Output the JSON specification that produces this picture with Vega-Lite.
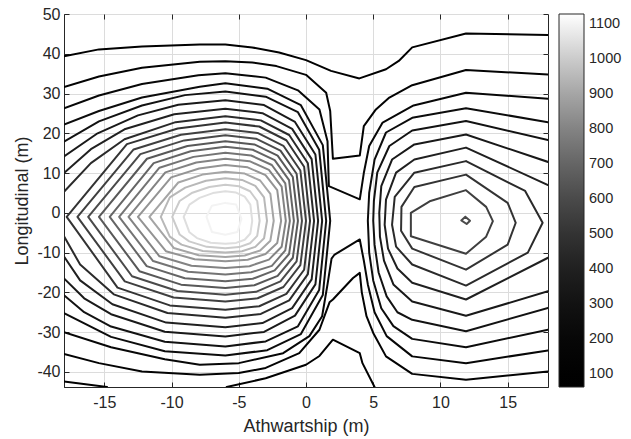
{
 "$schema": "https://vega.github.io/schema/vega-lite/v6.json",
 "width": 484, "height": 373,
 "autosize": {"type": "none"},
 "padding": {"left": 64, "top": 14, "right": 83, "bottom": 52},
 "background": "white",
 "config": {"view": {"stroke": "#262626", "strokeWidth": 1}, "font": "Liberation Sans"},
 "datasets": {
  "c": [
{"c":"1t","l":100,"o":1,"x":-18,"y":39.4},{"c":"1t","l":100,"o":2,"x":-15.4,"y":41.1},{"c":"1t","l":100,"o":3,"x":-12.2,"y":41.8},{"c":"1t","l":100,"o":4,"x":-7.9,"y":42.3},{"c":"1t","l":100,"o":5,"x":-6,"y":42.3},{"c":"1t","l":100,"o":6,"x":-4,"y":41.6},{"c":"1t","l":100,"o":7,"x":-2,"y":40.3},{"c":"1t","l":100,"o":8,"x":0,"y":38.4},{"c":"1t","l":100,"o":9,"x":1.86,"y":35.7},{"c":"1t","l":100,"o":10,"x":3.97,"y":33.8},{"c":"1t","l":100,"o":11,"x":5.95,"y":36.1},{"c":"1t","l":100,"o":12,"x":6.9,"y":38.2},{"c":"1t","l":100,"o":13,"x":7.9,"y":41.6},{"c":"1t","l":100,"o":14,"x":11.9,"y":45.1},{"c":"1t","l":100,"o":15,"x":18,"y":44.7},
{"c":"1c","l":100,"o":1,"x":-18,"y":-42.4},{"c":"1c","l":100,"o":2,"x":-14.8,"y":-43.8},
{"c":"1v","l":100,"o":1,"x":-5.9,"y":-43.8},{"c":"1v","l":100,"o":2,"x":-3,"y":-41.6},{"c":"1v","l":100,"o":3,"x":0,"y":-38.2},{"c":"1v","l":100,"o":4,"x":1,"y":-36},{"c":"1v","l":100,"o":5,"x":2,"y":-31.9},{"c":"1v","l":100,"o":6,"x":4,"y":-35.3},{"c":"1v","l":100,"o":7,"x":4.2,"y":-37.8},{"c":"1v","l":100,"o":8,"x":5.1,"y":-43.8},
{"c":"2t","l":150,"o":1,"x":-18,"y":31.6},{"c":"2t","l":150,"o":2,"x":-15.4,"y":34.3},{"c":"2t","l":150,"o":3,"x":-12.2,"y":36.5},{"c":"2t","l":150,"o":4,"x":-7.9,"y":38},{"c":"2t","l":150,"o":5,"x":-6,"y":38.1},{"c":"2t","l":150,"o":6,"x":-4,"y":37.8},{"c":"2t","l":150,"o":7,"x":-2.2,"y":36.9},{"c":"2t","l":150,"o":8,"x":0,"y":34.7},{"c":"2t","l":150,"o":9,"x":1.5,"y":30.2},{"c":"2t","l":150,"o":10,"x":1.8,"y":25.6},{"c":"2t","l":150,"o":11,"x":2,"y":13.6},{"c":"2t","l":150,"o":12,"x":4,"y":14.4},{"c":"2t","l":150,"o":13,"x":4.3,"y":21.8},{"c":"2t","l":150,"o":14,"x":5.2,"y":26},{"c":"2t","l":150,"o":15,"x":6.2,"y":29},{"c":"2t","l":150,"o":16,"x":7.9,"y":32.1},{"c":"2t","l":150,"o":17,"x":11.9,"y":35.9},{"c":"2t","l":150,"o":18,"x":18,"y":34.8},
{"c":"2b","l":150,"o":1,"x":-18,"y":-35.5},{"c":"2b","l":150,"o":2,"x":-15.4,"y":-37.8},{"c":"2b","l":150,"o":3,"x":-12.2,"y":-39.9},{"c":"2b","l":150,"o":4,"x":-7.9,"y":-40.7},{"c":"2b","l":150,"o":5,"x":-5,"y":-40.3},{"c":"2b","l":150,"o":6,"x":-3,"y":-39},{"c":"2b","l":150,"o":7,"x":-0.5,"y":-35.3},{"c":"2b","l":150,"o":8,"x":1,"y":-29.4},{"c":"2b","l":150,"o":9,"x":1.75,"y":-22.5},{"c":"2b","l":150,"o":10,"x":2,"y":-21.8},{"c":"2b","l":150,"o":11,"x":3.5,"y":-16.4},{"c":"2b","l":150,"o":12,"x":4,"y":-15.1},{"c":"2b","l":150,"o":13,"x":4.15,"y":-20},{"c":"2b","l":150,"o":14,"x":4.5,"y":-26},{"c":"2b","l":150,"o":15,"x":5,"y":-30.2},{"c":"2b","l":150,"o":16,"x":5.95,"y":-36.1},{"c":"2b","l":150,"o":17,"x":7.9,"y":-40.5},{"c":"2b","l":150,"o":18,"x":11.9,"y":-42},{"c":"2b","l":150,"o":19,"x":18,"y":-39.9},
{"c":"3t","l":200,"o":1,"x":-18,"y":26.3},{"c":"3t","l":200,"o":2,"x":-15.4,"y":29.5},{"c":"3t","l":200,"o":3,"x":-12.2,"y":32.4},{"c":"3t","l":200,"o":4,"x":-8,"y":34.6},{"c":"3t","l":200,"o":5,"x":-6,"y":35.1},{"c":"3t","l":200,"o":6,"x":-3,"y":34},{"c":"3t","l":200,"o":7,"x":-0.6,"y":30.8},{"c":"3t","l":200,"o":8,"x":1,"y":26},{"c":"3t","l":200,"o":9,"x":1.6,"y":18},{"c":"3t","l":200,"o":10,"x":1.7,"y":6.7},{"c":"3t","l":200,"o":11,"x":4,"y":3.4},{"c":"3t","l":200,"o":12,"x":4.3,"y":10},{"c":"3t","l":200,"o":13,"x":4.7,"y":16.8},{"c":"3t","l":200,"o":14,"x":5.7,"y":22.7},{"c":"3t","l":200,"o":15,"x":8,"y":27},{"c":"3t","l":200,"o":16,"x":11.9,"y":30.2},{"c":"3t","l":200,"o":17,"x":18,"y":28.7},
{"c":"3b","l":200,"o":1,"x":-18,"y":-30},{"c":"3b","l":200,"o":2,"x":-14.5,"y":-33.8},{"c":"3b","l":200,"o":3,"x":-10.5,"y":-36.8},{"c":"3b","l":200,"o":4,"x":-7.9,"y":-38.2},{"c":"3b","l":200,"o":5,"x":-5,"y":-37.8},{"c":"3b","l":200,"o":6,"x":-1.7,"y":-35.3},{"c":"3b","l":200,"o":7,"x":0.25,"y":-31},{"c":"3b","l":200,"o":8,"x":1.2,"y":-26},{"c":"3b","l":200,"o":9,"x":1.6,"y":-18},{"c":"3b","l":200,"o":10,"x":1.9,"y":-11.5},{"c":"3b","l":200,"o":11,"x":2.1,"y":-10.6},{"c":"3b","l":200,"o":12,"x":4,"y":-6.7},{"c":"3b","l":200,"o":13,"x":4.3,"y":-12},{"c":"3b","l":200,"o":14,"x":4.6,"y":-18},{"c":"3b","l":200,"o":15,"x":5.1,"y":-25},{"c":"3b","l":200,"o":16,"x":6,"y":-31},{"c":"3b","l":200,"o":17,"x":7.9,"y":-36.1},{"c":"3b","l":200,"o":18,"x":11.9,"y":-37.8},{"c":"3b","l":200,"o":19,"x":18,"y":-34.6},
{"c":"4L","l":250,"o":1,"x":-18,"y":22.2},{"c":"4L","l":250,"o":2,"x":-15.4,"y":25.6},{"c":"4L","l":250,"o":3,"x":-12.2,"y":29},{"c":"4L","l":250,"o":4,"x":-7.9,"y":31.7},{"c":"4L","l":250,"o":5,"x":-6,"y":32.6},{"c":"4L","l":250,"o":6,"x":-2.88,"y":31.22},{"c":"4L","l":250,"o":7,"x":-0.38,"y":27.06},{"c":"4L","l":250,"o":8,"x":1.25,"y":17.03},{"c":"4L","l":250,"o":9,"x":1.8,"y":-2},{"c":"4L","l":250,"o":10,"x":1.25,"y":-20.65},{"c":"4L","l":250,"o":11,"x":-0.38,"y":-30.48},{"c":"4L","l":250,"o":12,"x":-2.88,"y":-34.54},{"c":"4L","l":250,"o":13,"x":-6,"y":-35.9},{"c":"4L","l":250,"o":14,"x":-10.5,"y":-34.8},{"c":"4L","l":250,"o":15,"x":-14.5,"y":-31.2},{"c":"4L","l":250,"o":16,"x":-18,"y":-25.2},
{"c":"4R","l":250,"o":1,"x":18,"y":22.8},{"c":"4R","l":250,"o":2,"x":11.9,"y":26.3},{"c":"4R","l":250,"o":3,"x":7.9,"y":23.9},{"c":"4R","l":250,"o":4,"x":5.95,"y":20.2},{"c":"4R","l":250,"o":5,"x":5.1,"y":13.4},{"c":"4R","l":250,"o":6,"x":4.7,"y":5},{"c":"4R","l":250,"o":7,"x":4.6,"y":-2},{"c":"4R","l":250,"o":8,"x":4.7,"y":-10},{"c":"4R","l":250,"o":9,"x":5,"y":-17},{"c":"4R","l":250,"o":10,"x":5.6,"y":-24},{"c":"4R","l":250,"o":11,"x":6.5,"y":-28.5},{"c":"4R","l":250,"o":12,"x":7.9,"y":-31.7},{"c":"4R","l":250,"o":13,"x":11.9,"y":-33.8},{"c":"4R","l":250,"o":14,"x":18,"y":-29.4},
{"c":"5L","l":300,"o":1,"x":-18,"y":17.9},{"c":"5L","l":300,"o":2,"x":-15.4,"y":23},{"c":"5L","l":300,"o":3,"x":-12.2,"y":27},{"c":"5L","l":300,"o":4,"x":-9,"y":29.6},{"c":"5L","l":300,"o":5,"x":-6,"y":30.5},{"c":"5L","l":300,"o":6,"x":-3,"y":29.2},{"c":"5L","l":300,"o":7,"x":-0.6,"y":25.3},{"c":"5L","l":300,"o":8,"x":0.98,"y":15.88},{"c":"5L","l":300,"o":9,"x":1.5,"y":-2},{"c":"5L","l":300,"o":10,"x":0.98,"y":-19.38},{"c":"5L","l":300,"o":11,"x":-0.6,"y":-28.54},{"c":"5L","l":300,"o":12,"x":-3,"y":-32.34},{"c":"5L","l":300,"o":13,"x":-6,"y":-33.6},{"c":"5L","l":300,"o":14,"x":-10.5,"y":-32.4},{"c":"5L","l":300,"o":15,"x":-14.5,"y":-28.6},{"c":"5L","l":300,"o":16,"x":-16.5,"y":-25},{"c":"5L","l":300,"o":17,"x":-18,"y":-20.7},
{"c":"5R","l":300,"o":1,"x":18,"y":18.3},{"c":"5R","l":300,"o":2,"x":11.9,"y":23.1},{"c":"5R","l":300,"o":3,"x":7.9,"y":20.7},{"c":"5R","l":300,"o":4,"x":6.2,"y":16.8},{"c":"5R","l":300,"o":5,"x":5.3,"y":10.1},{"c":"5R","l":300,"o":6,"x":5.05,"y":3},{"c":"5R","l":300,"o":7,"x":5,"y":-2},{"c":"5R","l":300,"o":8,"x":5.1,"y":-8},{"c":"5R","l":300,"o":9,"x":5.4,"y":-15},{"c":"5R","l":300,"o":10,"x":6,"y":-21},{"c":"5R","l":300,"o":11,"x":6.8,"y":-25},{"c":"5R","l":300,"o":12,"x":7.9,"y":-26.9},{"c":"5R","l":300,"o":13,"x":11.9,"y":-29.8},{"c":"5R","l":300,"o":14,"x":18,"y":-23.9},
{"c":"6L","l":350,"o":1,"x":-18,"y":14.2},{"c":"6L","l":350,"o":2,"x":-15.5,"y":20},{"c":"6L","l":350,"o":3,"x":-12.5,"y":24.5},{"c":"6L","l":350,"o":4,"x":-9.5,"y":27.2},{"c":"6L","l":350,"o":5,"x":-6,"y":28.3},{"c":"6L","l":350,"o":6,"x":-3.12,"y":27.09},{"c":"6L","l":350,"o":7,"x":-0.82,"y":22.85},{"c":"6L","l":350,"o":8,"x":0.7,"y":14.67},{"c":"6L","l":350,"o":9,"x":1.2,"y":-2},{"c":"6L","l":350,"o":10,"x":0.7,"y":-18},{"c":"6L","l":350,"o":11,"x":-0.82,"y":-25.86},{"c":"6L","l":350,"o":12,"x":-3.12,"y":-29.94},{"c":"6L","l":350,"o":13,"x":-6,"y":-31.1},{"c":"6L","l":350,"o":14,"x":-10.5,"y":-29.9},{"c":"6L","l":350,"o":15,"x":-14.5,"y":-25.5},{"c":"6L","l":350,"o":16,"x":-16.5,"y":-21.5},{"c":"6L","l":350,"o":17,"x":-18,"y":-16.5},
{"c":"6R","l":350,"o":1,"x":18,"y":12.8},{"c":"6R","l":350,"o":2,"x":11.9,"y":19.7},{"c":"6R","l":350,"o":3,"x":8.06,"y":17.2},{"c":"6R","l":350,"o":4,"x":6.4,"y":13.4},{"c":"6R","l":350,"o":5,"x":5.6,"y":6.7},{"c":"6R","l":350,"o":6,"x":5.45,"y":0},{"c":"6R","l":350,"o":7,"x":5.5,"y":-6},{"c":"6R","l":350,"o":8,"x":5.8,"y":-12},{"c":"6R","l":350,"o":9,"x":6.5,"y":-18},{"c":"6R","l":350,"o":10,"x":7.9,"y":-22.3},{"c":"6R","l":350,"o":11,"x":11.9,"y":-25.9},{"c":"6R","l":350,"o":12,"x":18,"y":-19.7},
{"c":"7L","l":400,"o":1,"x":-18,"y":10},{"c":"7L","l":400,"o":2,"x":-16,"y":16},{"c":"7L","l":400,"o":3,"x":-13.5,"y":21},{"c":"7L","l":400,"o":4,"x":-9.8,"y":24.8},{"c":"7L","l":400,"o":5,"x":-6,"y":26.2},{"c":"7L","l":400,"o":6,"x":-3.24,"y":25.07},{"c":"7L","l":400,"o":7,"x":-1.03,"y":21.12},{"c":"7L","l":400,"o":8,"x":0.42,"y":13.51},{"c":"7L","l":400,"o":9,"x":0.9,"y":-2},{"c":"7L","l":400,"o":10,"x":0.42,"y":-16.74},{"c":"7L","l":400,"o":11,"x":-1.03,"y":-23.98},{"c":"7L","l":400,"o":12,"x":-3.24,"y":-27.73},{"c":"7L","l":400,"o":13,"x":-6,"y":-28.8},{"c":"7L","l":400,"o":14,"x":-10.4,"y":-27.6},{"c":"7L","l":400,"o":15,"x":-14.4,"y":-23},{"c":"7L","l":400,"o":16,"x":-16.8,"y":-17},{"c":"7L","l":400,"o":17,"x":-18,"y":-11},
{"c":"7R","l":400,"o":1,"x":18,"y":7},{"c":"7R","l":400,"o":2,"x":11.9,"y":16.4},{"c":"7R","l":400,"o":3,"x":8.06,"y":13.4},{"c":"7R","l":400,"o":4,"x":6.7,"y":10.1},{"c":"7R","l":400,"o":5,"x":5.95,"y":3.3},{"c":"7R","l":400,"o":6,"x":5.85,"y":-3},{"c":"7R","l":400,"o":7,"x":6.1,"y":-9},{"c":"7R","l":400,"o":8,"x":6.8,"y":-14},{"c":"7R","l":400,"o":9,"x":7.9,"y":-17.6},{"c":"7R","l":400,"o":10,"x":11.9,"y":-21.8},{"c":"7R","l":400,"o":11,"x":18,"y":-11.3},
{"c":"8L","l":450,"o":1,"x":-18,"y":5.3},{"c":"8L","l":450,"o":2,"x":-16,"y":12.5},{"c":"8L","l":450,"o":3,"x":-13.5,"y":18.5},{"c":"8L","l":450,"o":4,"x":-9.7,"y":22.8},{"c":"8L","l":450,"o":5,"x":-6,"y":24.3},{"c":"8L","l":450,"o":6,"x":-3.36,"y":23.25},{"c":"8L","l":450,"o":7,"x":-1.25,"y":19.57},{"c":"8L","l":450,"o":8,"x":0.14,"y":12.47},{"c":"8L","l":450,"o":9,"x":0.6,"y":-2},{"c":"8L","l":450,"o":10,"x":0.14,"y":-15.42},{"c":"8L","l":450,"o":11,"x":-1.25,"y":-22.01},{"c":"8L","l":450,"o":12,"x":-3.36,"y":-25.42},{"c":"8L","l":450,"o":13,"x":-6,"y":-26.4},{"c":"8L","l":450,"o":14,"x":-10.3,"y":-25.2},{"c":"8L","l":450,"o":15,"x":-14.3,"y":-20.5},{"c":"8L","l":450,"o":16,"x":-16.8,"y":-13},{"c":"8L","l":450,"o":17,"x":-18,"y":-5.9},
{"c":"8R","l":450,"o":1,"x":11.9,"y":13},{"c":"8R","l":450,"o":2,"x":8.06,"y":10.1},{"c":"8R","l":450,"o":3,"x":6.6,"y":4},{"c":"8R","l":450,"o":4,"x":6.4,"y":-3},{"c":"8R","l":450,"o":5,"x":6.7,"y":-8.5},{"c":"8R","l":450,"o":6,"x":7.9,"y":-13},{"c":"8R","l":450,"o":7,"x":11.9,"y":-18.3},{"c":"8R","l":450,"o":8,"x":16.5,"y":-10},{"c":"8R","l":450,"o":9,"x":17.6,"y":-2.5},{"c":"8R","l":450,"o":10,"x":16.3,"y":5.5},{"c":"8R","l":450,"o":11,"x":11.9,"y":13},
{"c":"9R","l":500,"o":1,"x":11.9,"y":9.6},{"c":"9R","l":500,"o":2,"x":8.06,"y":6.5},{"c":"9R","l":500,"o":3,"x":7.1,"y":1.5},{"c":"9R","l":500,"o":4,"x":7.07,"y":-4.5},{"c":"9R","l":500,"o":5,"x":7.9,"y":-9},{"c":"9R","l":500,"o":6,"x":11.9,"y":-14.3},{"c":"9R","l":500,"o":7,"x":15,"y":-8},{"c":"9R","l":500,"o":8,"x":15.6,"y":-2.5},{"c":"9R","l":500,"o":9,"x":15,"y":2.5},{"c":"9R","l":500,"o":10,"x":11.9,"y":9.6},
{"c":"10R","l":550,"o":1,"x":11.9,"y":5.7},{"c":"10R","l":550,"o":2,"x":9.2,"y":2.9},{"c":"10R","l":550,"o":3,"x":7.8,"y":0},{"c":"10R","l":550,"o":4,"x":7.8,"y":-5.9},{"c":"10R","l":550,"o":5,"x":11.9,"y":-10.3},{"c":"10R","l":550,"o":6,"x":13.4,"y":-6},{"c":"10R","l":550,"o":7,"x":13.9,"y":-2.1},{"c":"10R","l":550,"o":8,"x":13.4,"y":1.5},{"c":"10R","l":550,"o":9,"x":11.9,"y":5.7},
{"c":"11R","l":600,"o":1,"x":11.85,"y":-1},{"c":"11R","l":600,"o":2,"x":12.2,"y":-2},{"c":"11R","l":600,"o":3,"x":11.95,"y":-2.8},{"c":"11R","l":600,"o":4,"x":11.55,"y":-1.9},{"c":"11R","l":600,"o":5,"x":11.85,"y":-1},
{"c":"9L","l":500,"o":1,"x":-6,"y":22.7},{"c":"9L","l":500,"o":2,"x":-3.48,"y":21.71},{"c":"9L","l":500,"o":3,"x":-1.46,"y":18.25},{"c":"9L","l":500,"o":4,"x":-0.14,"y":11.59},{"c":"9L","l":500,"o":5,"x":0.3,"y":-2},{"c":"9L","l":500,"o":6,"x":-0.14,"y":-14.32},{"c":"9L","l":500,"o":7,"x":-1.46,"y":-20.37},{"c":"9L","l":500,"o":8,"x":-3.48,"y":-23.5},{"c":"9L","l":500,"o":9,"x":-6,"y":-24.4},{"c":"9L","l":500,"o":10,"x":-10.13,"y":-23.28},{"c":"9L","l":500,"o":11,"x":-14.02,"y":-18.8},{"c":"9L","l":500,"o":12,"x":-17.8,"y":-1},{"c":"9L","l":500,"o":13,"x":-13.32,"y":17.27},{"c":"9L","l":500,"o":14,"x":-9.54,"y":21.22},{"c":"9L","l":500,"o":15,"x":-6,"y":22.7},
{"c":"10L","l":550,"o":1,"x":-6,"y":21},{"c":"10L","l":550,"o":2,"x":-3.6,"y":20.08},{"c":"10L","l":550,"o":3,"x":-1.68,"y":16.86},{"c":"10L","l":550,"o":4,"x":-0.42,"y":10.65},{"c":"10L","l":550,"o":5,"x":0,"y":-2},{"c":"10L","l":550,"o":6,"x":-0.42,"y":-13.17},{"c":"10L","l":550,"o":7,"x":-1.68,"y":-18.65},{"c":"10L","l":550,"o":8,"x":-3.6,"y":-21.49},{"c":"10L","l":550,"o":9,"x":-6,"y":-22.3},{"c":"10L","l":550,"o":10,"x":-9.85,"y":-21.29},{"c":"10L","l":550,"o":11,"x":-13.48,"y":-17.23},{"c":"10L","l":550,"o":12,"x":-17,"y":-1},{"c":"10L","l":550,"o":13,"x":-12.82,"y":15.94},{"c":"10L","l":550,"o":14,"x":-9.3,"y":19.62},{"c":"10L","l":550,"o":15,"x":-6,"y":21},
{"c":"11L","l":600,"o":1,"x":-6,"y":19.5},{"c":"11L","l":600,"o":2,"x":-3.72,"y":18.64},{"c":"11L","l":600,"o":3,"x":-1.9,"y":15.63},{"c":"11L","l":600,"o":4,"x":-0.7,"y":9.83},{"c":"11L","l":600,"o":5,"x":-0.3,"y":-2},{"c":"11L","l":600,"o":6,"x":-0.7,"y":-12.23},{"c":"11L","l":600,"o":7,"x":-1.9,"y":-17.25},{"c":"11L","l":600,"o":8,"x":-3.72,"y":-19.86},{"c":"11L","l":600,"o":9,"x":-6,"y":-20.6},{"c":"11L","l":600,"o":10,"x":-9.57,"y":-19.67},{"c":"11L","l":600,"o":11,"x":-12.94,"y":-15.95},{"c":"11L","l":600,"o":12,"x":-16.2,"y":-1},{"c":"11L","l":600,"o":13,"x":-12.32,"y":14.77},{"c":"11L","l":600,"o":14,"x":-9.06,"y":18.21},{"c":"11L","l":600,"o":15,"x":-6,"y":19.5},
{"c":"12L","l":650,"o":1,"x":-6,"y":18},{"c":"12L","l":650,"o":2,"x":-3.84,"y":17.2},{"c":"12L","l":650,"o":3,"x":-2.11,"y":14.4},{"c":"12L","l":650,"o":4,"x":-0.98,"y":9},{"c":"12L","l":650,"o":5,"x":-0.6,"y":-2},{"c":"12L","l":650,"o":6,"x":-0.98,"y":-11.3},{"c":"12L","l":650,"o":7,"x":-2.11,"y":-15.86},{"c":"12L","l":650,"o":8,"x":-3.84,"y":-18.22},{"c":"12L","l":650,"o":9,"x":-6,"y":-18.9},{"c":"12L","l":650,"o":10,"x":-9.29,"y":-18.06},{"c":"12L","l":650,"o":11,"x":-12.39,"y":-14.68},{"c":"12L","l":650,"o":12,"x":-15.4,"y":-1},{"c":"12L","l":650,"o":13,"x":-11.83,"y":13.6},{"c":"12L","l":650,"o":14,"x":-8.82,"y":16.8},{"c":"12L","l":650,"o":15,"x":-6,"y":18},
{"c":"13L","l":700,"o":1,"x":-6,"y":16.6},{"c":"13L","l":700,"o":2,"x":-3.96,"y":15.86},{"c":"13L","l":700,"o":3,"x":-2.33,"y":13.25},{"c":"13L","l":700,"o":4,"x":-1.26,"y":8.23},{"c":"13L","l":700,"o":5,"x":-0.9,"y":-2},{"c":"13L","l":700,"o":6,"x":-1.26,"y":-10.36},{"c":"13L","l":700,"o":7,"x":-2.33,"y":-14.46},{"c":"13L","l":700,"o":8,"x":-3.96,"y":-16.59},{"c":"13L","l":700,"o":9,"x":-6,"y":-17.2},{"c":"13L","l":700,"o":10,"x":-9.01,"y":-16.44},{"c":"13L","l":700,"o":11,"x":-11.85,"y":-13.4},{"c":"13L","l":700,"o":12,"x":-14.6,"y":-1},{"c":"13L","l":700,"o":13,"x":-11.33,"y":12.51},{"c":"13L","l":700,"o":14,"x":-8.58,"y":15.48},{"c":"13L","l":700,"o":15,"x":-6,"y":16.6},
{"c":"14L","l":750,"o":1,"x":-6,"y":15.1},{"c":"14L","l":750,"o":2,"x":-4.08,"y":14.42},{"c":"14L","l":750,"o":3,"x":-2.54,"y":12.02},{"c":"14L","l":750,"o":4,"x":-1.54,"y":7.41},{"c":"14L","l":750,"o":5,"x":-1.2,"y":-2},{"c":"14L","l":750,"o":6,"x":-1.54,"y":-9.43},{"c":"14L","l":750,"o":7,"x":-2.54,"y":-13.34},{"c":"14L","l":750,"o":8,"x":-4.08,"y":-14.96},{"c":"14L","l":750,"o":9,"x":-6,"y":-15.5},{"c":"14L","l":750,"o":10,"x":-8.77,"y":-14.83},{"c":"14L","l":750,"o":11,"x":-11.37,"y":-12.13},{"c":"14L","l":750,"o":12,"x":-13.9,"y":-1},{"c":"14L","l":750,"o":13,"x":-10.9,"y":11.34},{"c":"14L","l":750,"o":14,"x":-8.37,"y":14.07},{"c":"14L","l":750,"o":15,"x":-6,"y":15.1},
{"c":"15L","l":800,"o":1,"x":-6,"y":13.6},{"c":"15L","l":800,"o":2,"x":-4.2,"y":12.98},{"c":"15L","l":800,"o":3,"x":-2.76,"y":10.79},{"c":"15L","l":800,"o":4,"x":-1.81,"y":6.58},{"c":"15L","l":800,"o":5,"x":-1.5,"y":-2},{"c":"15L","l":800,"o":6,"x":-1.81,"y":-8.55},{"c":"15L","l":800,"o":7,"x":-2.76,"y":-11.76},{"c":"15L","l":800,"o":8,"x":-4.2,"y":-13.42},{"c":"15L","l":800,"o":9,"x":-6,"y":-13.9},{"c":"15L","l":800,"o":10,"x":-8.52,"y":-13.31},{"c":"15L","l":800,"o":11,"x":-10.9,"y":-10.93},{"c":"15L","l":800,"o":12,"x":-13.2,"y":-1},{"c":"15L","l":800,"o":13,"x":-10.46,"y":10.17},{"c":"15L","l":800,"o":14,"x":-8.16,"y":12.66},{"c":"15L","l":800,"o":15,"x":-6,"y":13.6},
{"c":"16L","l":850,"o":1,"x":-6,"y":12},{"c":"16L","l":850,"o":2,"x":-4.34,"y":11.44},{"c":"16L","l":850,"o":3,"x":-3.01,"y":9.48},{"c":"16L","l":850,"o":4,"x":-2.14,"y":5.7},{"c":"16L","l":850,"o":5,"x":-1.85,"y":-2},{"c":"16L","l":850,"o":6,"x":-2.14,"y":-7.61},{"c":"16L","l":850,"o":7,"x":-3.01,"y":-10.36},{"c":"16L","l":850,"o":8,"x":-4.34,"y":-11.79},{"c":"16L","l":850,"o":9,"x":-6,"y":-12.2},{"c":"16L","l":850,"o":10,"x":-8.28,"y":-11.69},{"c":"16L","l":850,"o":11,"x":-10.42,"y":-9.65},{"c":"16L","l":850,"o":12,"x":-12.5,"y":-1},{"c":"16L","l":850,"o":13,"x":-10.03,"y":8.92},{"c":"16L","l":850,"o":14,"x":-7.95,"y":11.16},{"c":"16L","l":850,"o":15,"x":-6,"y":12},
{"c":"17L","l":900,"o":1,"x":-6,"y":10.35},{"c":"17L","l":900,"o":2,"x":-4.56,"y":9.86},{"c":"17L","l":900,"o":3,"x":-3.41,"y":8.13},{"c":"17L","l":900,"o":4,"x":-2.65,"y":4.79},{"c":"17L","l":900,"o":5,"x":-2.4,"y":-2},{"c":"17L","l":900,"o":6,"x":-2.65,"y":-7},{"c":"17L","l":900,"o":7,"x":-3.41,"y":-9.46},{"c":"17L","l":900,"o":8,"x":-4.56,"y":-10.74},{"c":"17L","l":900,"o":9,"x":-6,"y":-11.1},{"c":"17L","l":900,"o":10,"x":-7.98,"y":-10.65},{"c":"17L","l":900,"o":11,"x":-9.84,"y":-8.83},{"c":"17L","l":900,"o":12,"x":-11.65,"y":-1},{"c":"17L","l":900,"o":13,"x":-9.5,"y":7.63},{"c":"17L","l":900,"o":14,"x":-7.7,"y":9.61},{"c":"17L","l":900,"o":15,"x":-6,"y":10.35},
{"c":"18L","l":950,"o":1,"x":-6,"y":8.7},{"c":"18L","l":950,"o":2,"x":-4.76,"y":8.27},{"c":"18L","l":950,"o":3,"x":-3.77,"y":6.77},{"c":"18L","l":950,"o":4,"x":-3.12,"y":3.89},{"c":"18L","l":950,"o":5,"x":-2.9,"y":-2},{"c":"18L","l":950,"o":6,"x":-3.12,"y":-6.4},{"c":"18L","l":950,"o":7,"x":-3.77,"y":-8.56},{"c":"18L","l":950,"o":8,"x":-4.76,"y":-9.68},{"c":"18L","l":950,"o":9,"x":-6,"y":-10},{"c":"18L","l":950,"o":10,"x":-7.68,"y":-9.6},{"c":"18L","l":950,"o":11,"x":-9.26,"y":-8},{"c":"18L","l":950,"o":12,"x":-10.13,"y":-6},{"c":"18L","l":950,"o":13,"x":-10.8,"y":-1},{"c":"18L","l":950,"o":14,"x":-10.13,"y":3.89},{"c":"18L","l":950,"o":15,"x":-8.98,"y":6.35},{"c":"18L","l":950,"o":16,"x":-7.44,"y":8.06},{"c":"18L","l":950,"o":17,"x":-6,"y":8.7},
{"c":"19L","l":1000,"o":1,"x":-6,"y":7.05},{"c":"19L","l":1000,"o":2,"x":-4.98,"y":6.69},{"c":"19L","l":1000,"o":3,"x":-4.16,"y":5.42},{"c":"19L","l":1000,"o":4,"x":-3.63,"y":2.98},{"c":"19L","l":1000,"o":5,"x":-3.45,"y":-2},{"c":"19L","l":1000,"o":6,"x":-3.63,"y":-5.8},{"c":"19L","l":1000,"o":7,"x":-4.16,"y":-7.66},{"c":"19L","l":1000,"o":8,"x":-4.98,"y":-8.62},{"c":"19L","l":1000,"o":9,"x":-6,"y":-8.9},{"c":"19L","l":1000,"o":10,"x":-7.38,"y":-8.56},{"c":"19L","l":1000,"o":11,"x":-8.69,"y":-7.18},{"c":"19L","l":1000,"o":12,"x":-9.4,"y":-5.45},{"c":"19L","l":1000,"o":13,"x":-9.95,"y":-1},{"c":"19L","l":1000,"o":14,"x":-9.4,"y":2.98},{"c":"19L","l":1000,"o":15,"x":-8.45,"y":5.06},{"c":"19L","l":1000,"o":16,"x":-7.19,"y":6.51},{"c":"19L","l":1000,"o":17,"x":-6,"y":7.05},
{"c":"20L","l":1050,"o":1,"x":-6,"y":5.4},{"c":"20L","l":1050,"o":2,"x":-5.2,"y":5.1},{"c":"20L","l":1050,"o":3,"x":-4.56,"y":4.07},{"c":"20L","l":1050,"o":4,"x":-4.14,"y":2.07},{"c":"20L","l":1050,"o":5,"x":-4,"y":-2},{"c":"20L","l":1050,"o":6,"x":-4.14,"y":-5.19},{"c":"20L","l":1050,"o":7,"x":-4.56,"y":-6.76},{"c":"20L","l":1050,"o":8,"x":-5.2,"y":-7.57},{"c":"20L","l":1050,"o":9,"x":-6,"y":-7.8},{"c":"20L","l":1050,"o":10,"x":-7.09,"y":-7.51},{"c":"20L","l":1050,"o":11,"x":-8.11,"y":-6.35},{"c":"20L","l":1050,"o":12,"x":-8.67,"y":-4.9},{"c":"20L","l":1050,"o":13,"x":-9.1,"y":-1},{"c":"20L","l":1050,"o":14,"x":-8.67,"y":2.07},{"c":"20L","l":1050,"o":15,"x":-7.92,"y":3.77},{"c":"20L","l":1050,"o":16,"x":-6.93,"y":4.96},{"c":"20L","l":1050,"o":17,"x":-6,"y":5.4},
{"c":"21L","l":1100,"o":1,"x":-6,"y":2.5},{"c":"21L","l":1100,"o":2,"x":-5.2,"y":2.1},{"c":"21L","l":1100,"o":3,"x":-4.8,"y":-1.5},{"c":"21L","l":1100,"o":4,"x":-5.1,"y":-4.8},{"c":"21L","l":1100,"o":5,"x":-6,"y":-5.5},{"c":"21L","l":1100,"o":6,"x":-7,"y":-4.8},{"c":"21L","l":1100,"o":7,"x":-7.4,"y":-1},{"c":"21L","l":1100,"o":8,"x":-7,"y":1.8},{"c":"21L","l":1100,"o":9,"x":-6,"y":2.5}
  ],
  "anchor": [{"x": 0, "y": 0}]
 },
 "layer": [
  {
   "data": {"name": "c"},
   "mark": {"type": "line", "strokeWidth": 2, "clip": true, "strokeJoin": "round", "strokeCap": "round"},
   "encoding": {
    "x": {"field": "x", "type": "quantitative",
      "scale": {"domain": [-18, 18], "nice": false, "zero": false},
      "axis": {"title": "Athwartship (m)", "values": [-15, -10, -5, 0, 5, 10, 15], "labelExpr": "'' + datum.value", "grid": true, "gridColor": "#dcdcdc",
        "domainColor": "#262626", "tickColor": "#262626", "tickSize": -5, "labelPadding": 12,
        "labelFont": "Liberation Sans", "labelFontSize": 16, "labelColor": "#262626",
        "titleFont": "Liberation Sans", "titleFontSize": 18, "titleFontWeight": "normal", "titleColor": "#262626", "titlePadding": 7}},
    "y": {"field": "y", "type": "quantitative",
      "scale": {"domain": [-43.8, 50], "nice": false, "zero": false},
      "axis": {"title": "Longitudinal (m)", "values": [-40, -30, -20, -10, 0, 10, 20, 30, 40, 50], "labelExpr": "'' + datum.value", "grid": true, "gridColor": "#dcdcdc",
        "domainColor": "#262626", "tickColor": "#262626", "tickSize": -5, "labelPadding": 9,
        "labelFont": "Liberation Sans", "labelFontSize": 16, "labelColor": "#262626",
        "titleFont": "Liberation Sans", "titleFontSize": 18, "titleFontWeight": "normal", "titleColor": "#262626", "titlePadding": 5}},
    "color": {"field": "l", "type": "quantitative",
      "scale": {"domain": [62, 168.7, 275.4, 382.1, 488.8, 595.5, 702.2, 808.9, 915.6, 1022.3, 1129],
                "range": ["#000000", "#040404", "#0e0e0e", "#1d1d1d", "#313131", "#494949", "#666666", "#868686", "#ababab", "#d3d3d3", "#ffffff"]},
      "legend": {"title": null, "gradientLength": 373, "gradientThickness": 25, "offset": 10, "padding": 0,
        "values": [100, 200, 300, 400, 500, 600, 700, 800, 900, 1000, 1100], "format": "d", "labelOverlap": false,
        "labelFont": "Liberation Sans", "labelFontSize": 14.5, "labelColor": "#262626", "labelOffset": 5,
        "gradientStrokeColor": "#262626", "gradientStrokeWidth": 1}},
    "detail": {"field": "c"},
    "order": {"field": "o", "type": "quantitative"}
   }
  },
  {
   "data": {"name": "anchor"},
   "mark": {"type": "point", "opacity": 0},
   "encoding": {
    "x": {"field": "x", "type": "quantitative", "scale": {"domain": [-18, 18], "nice": false, "zero": false},
      "axis": {"orient": "top", "title": null, "labels": false, "grid": false, "domain": false, "values": [-15, -10, -5, 0, 5, 10, 15], "tickColor": "#262626", "tickSize": -5}},
    "y": {"field": "y", "type": "quantitative", "scale": {"domain": [-43.8, 50], "nice": false, "zero": false},
      "axis": {"orient": "right", "title": null, "labels": false, "grid": false, "domain": false, "values": [-40, -30, -20, -10, 0, 10, 20, 30, 40, 50], "tickColor": "#262626", "tickSize": -5}}
   }
  }
 ],
 "resolve": {"axis": {"x": "independent", "y": "independent"}}
}
